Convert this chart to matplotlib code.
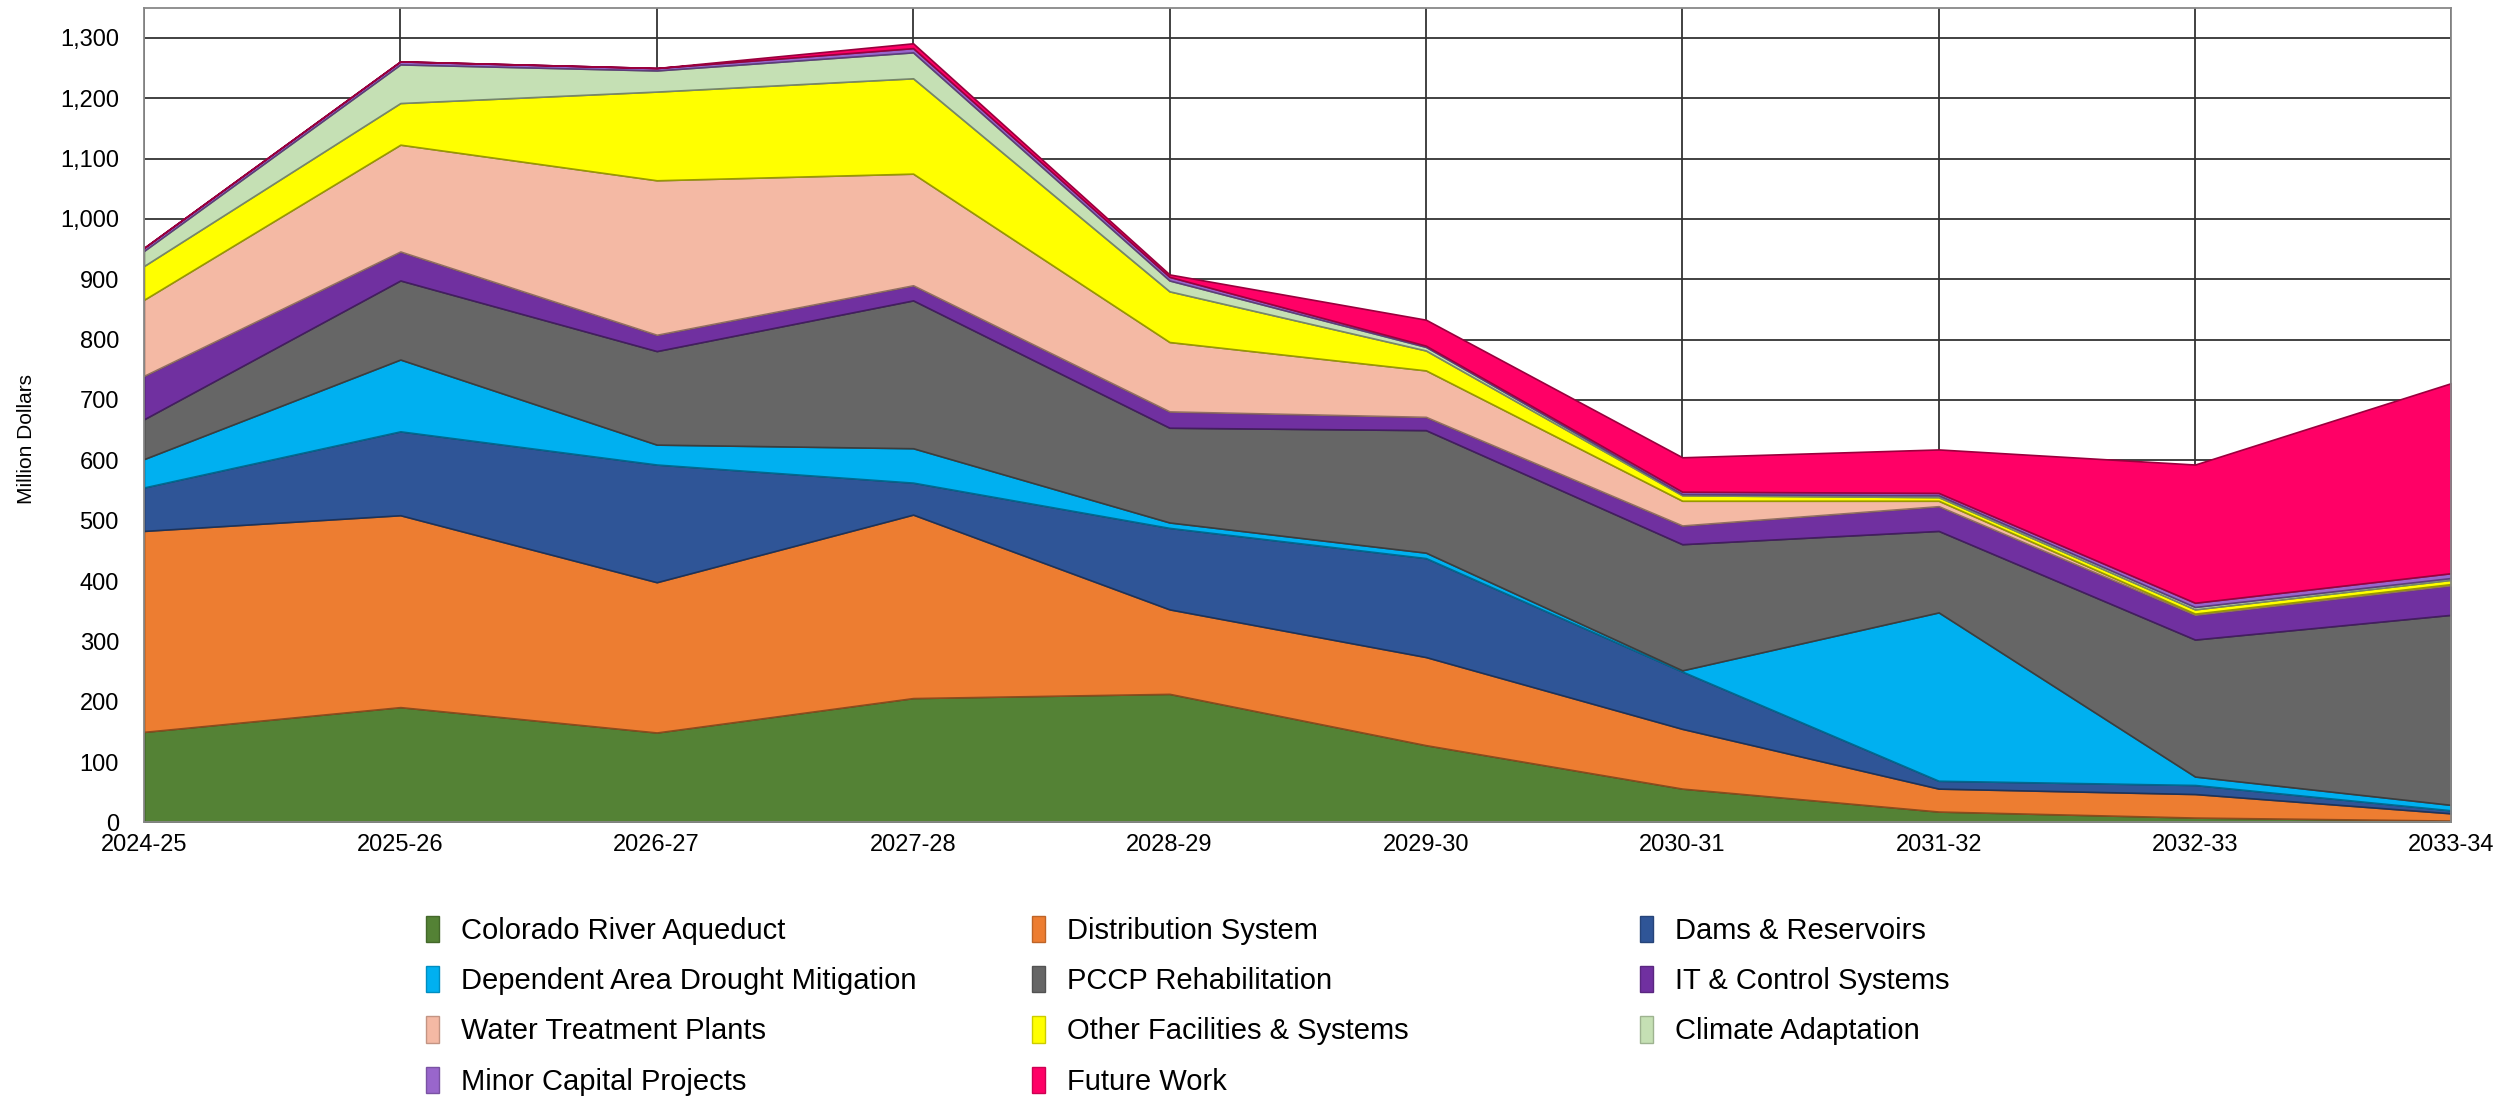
import matplotlib
matplotlib.use("Agg")
import matplotlib.pyplot as plt
import matplotlib.colors as mcolors
from matplotlib.patches import Patch
from matplotlib.ticker import FuncFormatter

plt.rcParams['font.family'] = ['Liberation Sans Narrow', 'Liberation Sans', 'DejaVu Sans']

years = ["2024-25", "2025-26", "2026-27", "2027-28", "2028-29",
         "2029-30", "2030-31", "2031-32", "2032-33", "2033-34"]

# million dollars per category, bottom to top of the stack
colorado = [150, 191, 149, 206, 213, 128, 56, 18, 8, 3]
distribution = [333, 318, 249, 304, 140, 146, 99, 38, 39, 12]
dams = [72, 139, 195, 53, 135, 164, 95, 13, 15, 5]
drought = [47, 119, 33, 57, 9, 9, 2, 279, 14, 9]
pccp = [66, 131, 155, 245, 157, 203, 209, 135, 227, 315]
it_control = [72, 48, 27, 25, 27, 22, 31, 41, 41, 49]
treatment = [126, 177, 256, 185, 115, 77, 41, 9, 2, 2]
other = [56, 69, 147, 158, 84, 33, 9, 6, 7, 7]
climate = [25, 64, 35, 43, 18, 6, 2, 3, 4, 3]
minor = [5, 5, 4, 7, 6, 2, 4, 4, 7, 8]
future = [0, 0, 0, 8, 4, 43, 57, 72, 229, 315]

labels = ["Colorado River Aqueduct", "Distribution System", "Dams & Reservoirs",
          "Dependent Area Drought Mitigation", "PCCP Rehabilitation", "IT & Control Systems",
          "Water Treatment Plants", "Other Facilities & Systems", "Climate Adaptation",
          "Minor Capital Projects", "Future Work"]
series = [colorado, distribution, dams, drought, pccp, it_control,
          treatment, other, climate, minor, future]
colors = ["#548235", "#ED7D31", "#2F5597", "#00B0F0", "#666666", "#7030A0",
          "#F4B9A4", "#FFFF00", "#C5E0B4", "#9966CC", "#FF0066"]


def darker(c, f=0.6):
    r, g, b = mcolors.to_rgb(c)
    return (r * f, g * f, b * f)


fig = plt.figure(figsize=(25.04, 10.98), dpi=100)
ax = fig.add_axes([0.0575, 0.251, 0.9215, 0.742])

x = list(range(len(years)))
polys = ax.stackplot(x, *series, colors=colors, labels=labels, zorder=2)
for p, c in zip(polys, colors):
    p.set_edgecolor(darker(c))
    p.set_linewidth(1.2)

ax.set_xlim(0, len(years) - 1)
ax.set_ylim(0, 1350)
ax.set_yticks(range(0, 1301, 100))
ax.yaxis.set_major_formatter(FuncFormatter(lambda v, p: f"{int(v):,}"))
ax.set_xticks(x)
ax.set_xticklabels(years)
ax.grid(True, color="#333333", linewidth=1.3, zorder=0)
ax.set_axisbelow(True)
ax.tick_params(axis='x', length=0, labelsize=17, pad=8)
ax.tick_params(axis='y', length=0, labelsize=17, pad=18)
ax.set_ylabel("Million Dollars", fontsize=15)
ax.yaxis.set_label_coords(-0.047, 0.47)
for s in ax.spines.values():
    s.set_color("#888888")
    s.set_linewidth(1.3)

# legend laid out row-wise in three fixed columns
columns = [[0, 3, 6, 9], [1, 4, 7, 10], [2, 5, 8]]
col_x = [0.170, 0.412, 0.655]
for cx, idx in zip(col_x, columns):
    handles = [Patch(facecolor=colors[i], edgecolor=darker(colors[i], 0.8), label=labels[i]) for i in idx]
    fig.legend(handles=handles, loc='upper left', bbox_to_anchor=(cx, 0.166),
               frameon=False, fontsize=21, handlelength=0.45, handleheight=1.0,
               handletextpad=0.75, labelspacing=0.73, borderaxespad=0, borderpad=0)

fig.savefig("out.png", dpi=100)
